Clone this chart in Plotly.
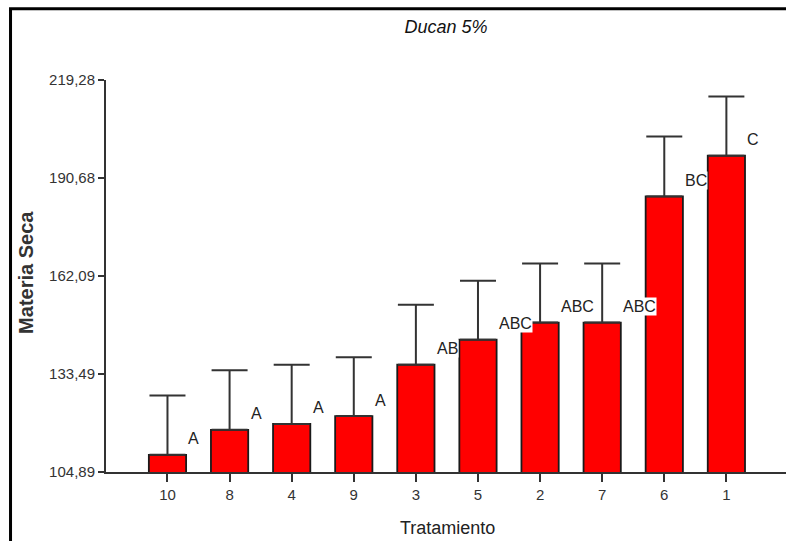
import plotly.graph_objects as go

categories = ["10", "8", "4", "9", "3", "5", "2", "7", "6", "1"]
means = [109.9, 117.2, 118.9, 121.2, 136.2, 143.5, 148.5, 148.5, 185.3, 197.2]
errors = [17.3, 17.4, 17.3, 17.2, 17.5, 17.2, 17.2, 17.2, 17.5, 17.3]
letters = ["A", "A", "A", "A", "AB", "ABC", "ABC", "ABC", "BC", "C"]
ytick_vals = [104.89, 133.49, 162.09, 190.68, 219.28]
ytick_text = ["104,89", "133,49", "162,09", "190,68", "219,28"]

SANS = "Liberation Sans, Arial, sans-serif"

fig = go.Figure()
fig.add_trace(go.Bar(
    x=categories, y=means, width=0.6,
    marker=dict(color="#FF0000", line=dict(color="#1a1a1a", width=1.8)),
    error_y=dict(type="data", symmetric=False, array=errors,
                 arrayminus=[0] * len(errors),
                 color="#333333", thickness=2, width=18),
))

for i, (m, l) in enumerate(zip(means, letters)):
    fig.add_annotation(x=i, y=m, text=l, showarrow=False, xanchor="left",
                       yanchor="middle", xshift=20, yshift=16,
                       bgcolor="white", borderpad=0,
                       font=dict(family=SANS, size=16, color="#222"))

fig.add_annotation(xref="paper", yref="paper", x=0.5015, y=-0.143,
                   text="Tratamiento", showarrow=False, xanchor="center",
                   yanchor="middle", font=dict(family=SANS, size=18, color="#222"))
fig.add_annotation(xref="paper", yref="paper", x=-0.1176, y=0.508,
                   text="<b>Materia Seca</b>", showarrow=False, textangle=-90,
                   xanchor="center", yanchor="middle",
                   font=dict(family=SANS, size=20, color="#333"))

fig.add_shape(type="rect", xref="paper", yref="paper",
              x0=-0.1404, y0=-0.4, x1=1.1, y1=1.182,
              line=dict(color="black", width=3), fillcolor="rgba(0,0,0,0)")

fig.update_layout(
    width=786, height=541,
    margin=dict(l=106, r=0, t=80, b=69),
    paper_bgcolor="white", plot_bgcolor="white",
    showlegend=False,
    title=dict(text="Ducan 5%", x=0.5, xref="paper", xanchor="center",
               y=1 - 27 / 541, yref="container", yanchor="middle",
               font=dict(family=SANS, size=18, color="#111", style="italic")),
    xaxis=dict(type="category", range=[-0.99, 9.96], showline=True,
               linecolor="#333", linewidth=2, ticks="outside", ticklen=8,
               tickwidth=2, tickcolor="#333", showgrid=False, zeroline=False,
               tickfont=dict(family=SANS, size=15, color="#333")),
    yaxis=dict(range=[104.89, 219.28], tickvals=ytick_vals, ticktext=ytick_text,
               showline=True, linecolor="#333", linewidth=2, ticks="outside",
               ticklen=6, tickwidth=2, tickcolor="#333", showgrid=False,
               zeroline=False,
               tickfont=dict(family=SANS, size=15, color="#333")),
)

fig.write_html("out.html")
